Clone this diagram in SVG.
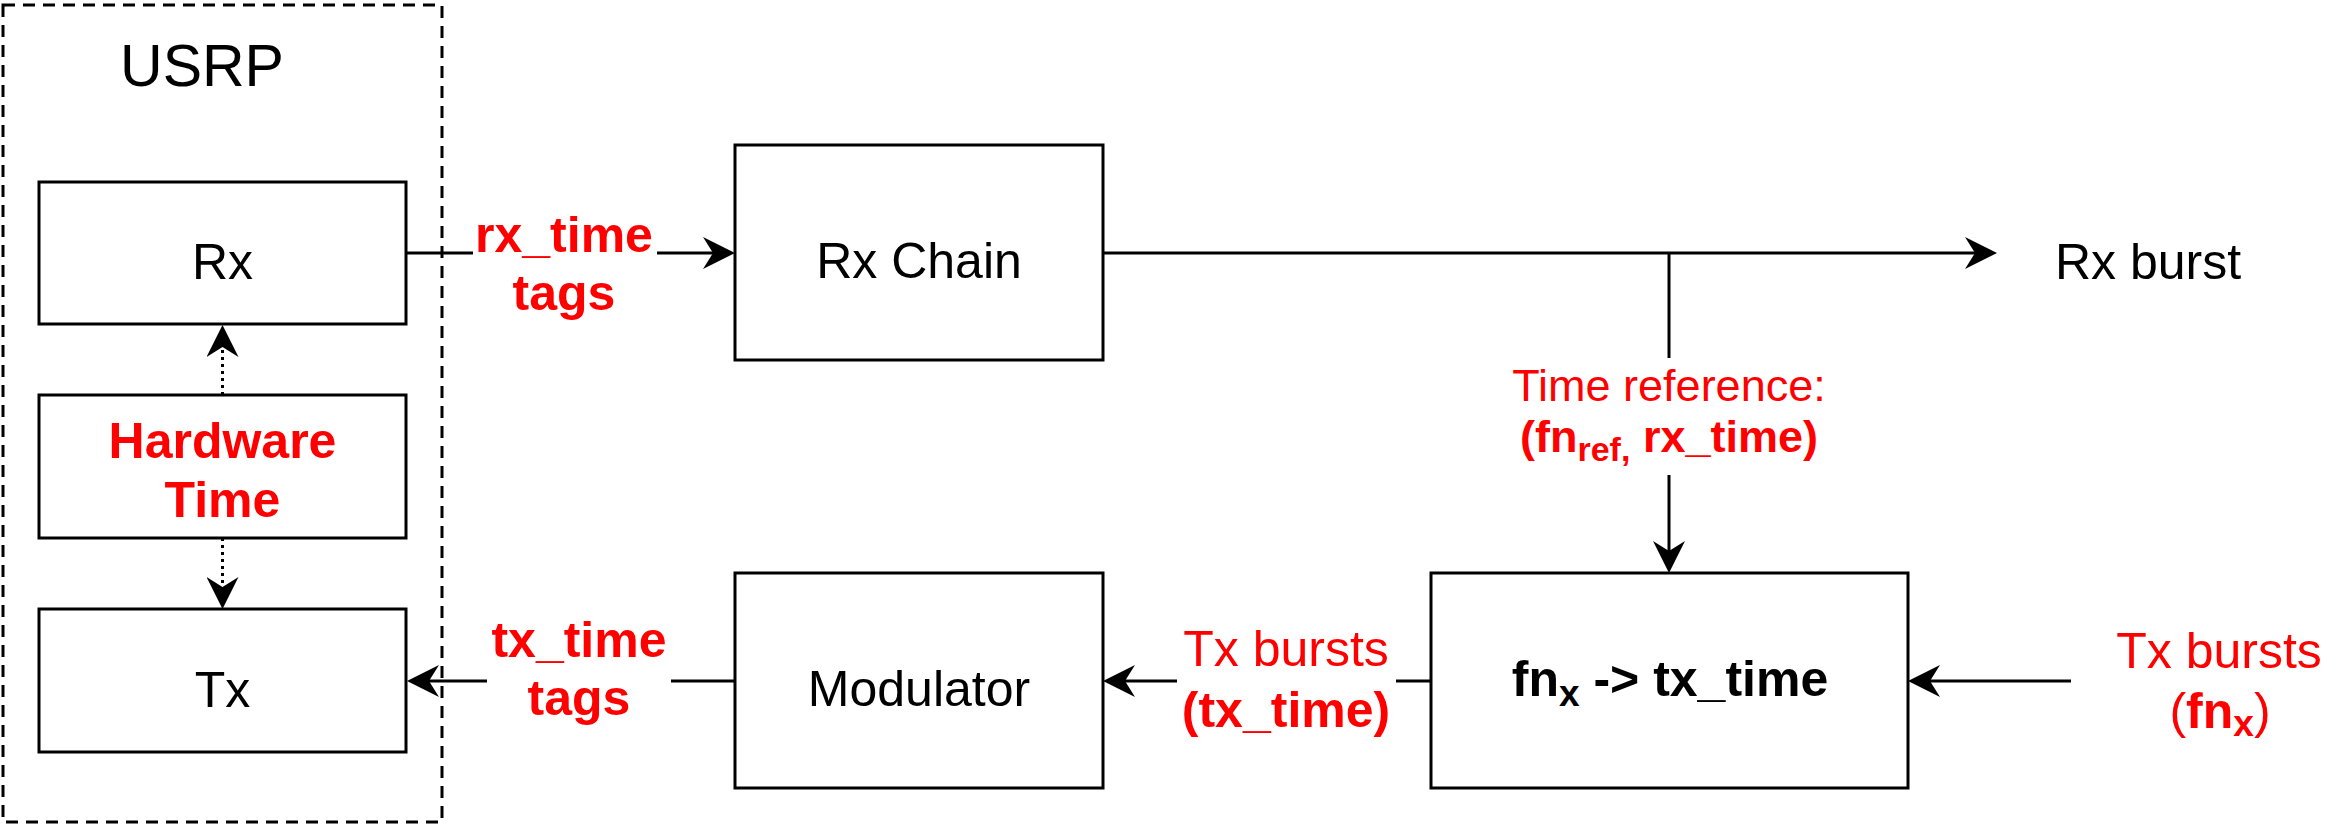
<svg xmlns="http://www.w3.org/2000/svg" width="2329" height="825" viewBox="0 0 2329 825">
<style>
.box{fill:#fff;stroke:#000;stroke-width:3}
.ln{fill:none;stroke:#000;stroke-width:3}
.dot{fill:none;stroke:#000;stroke-width:3;stroke-dasharray:3 4}
.dash{fill:none;stroke:#000;stroke-width:3;stroke-dasharray:12 8}
text{font-family:"Liberation Sans",Arial,Helvetica,sans-serif;font-size:50px;text-anchor:middle}
.red{fill:#ff0000}
.b{font-weight:bold}
</style>
<defs>
<marker id="ah" viewBox="0 0 32 32" refX="10" refY="16" markerWidth="32" markerHeight="32" markerUnits="userSpaceOnUse" orient="auto">
<path d="M32,16 L0,0 L10,16 L0,32 Z" fill="#000"/>
</marker>
</defs>
<rect width="2329" height="825" fill="#fff"/>
<g id="usrp">
<rect class="dash" x="3" y="5" width="439" height="817"/>
<text x="202" y="86" style="font-size:59px">USRP</text>
</g>
<g id="rx">
<rect class="box" x="39" y="182" width="367" height="142"/>
<text x="222.5" y="279">Rx</text>
</g>
<g id="hwtime">
<rect class="box" x="39" y="395" width="367" height="143"/>
<text class="red b" x="222.5" y="458">Hardware</text>
<text class="red b" x="222.5" y="517">Time</text>
</g>
<g id="tx">
<rect class="box" x="39" y="609" width="367" height="143"/>
<text x="222.5" y="707">Tx</text>
</g>
<g id="rxchain">
<rect class="box" x="735" y="145" width="368" height="215"/>
<text x="919" y="278">Rx Chain</text>
</g>
<g id="modulator">
<rect class="box" x="735" y="573" width="368" height="215"/>
<text x="919" y="706">Modulator</text>
</g>
<g id="fnconv">
<rect class="box" x="1431" y="573" width="477" height="215"/>
<text class="b" x="1670" y="696">fn<tspan font-size="37" dy="10">x</tspan><tspan dy="-10"> -&gt; tx_time</tspan></text>
</g>
<g id="rxburst">
<text x="2148" y="279">Rx burst</text>
</g>
<g id="txbursts-in">
<text class="red" x="2219" y="668">Tx bursts</text>
<text class="red" x="2220" y="728">(<tspan class="b">fn<tspan font-size="37" dy="8">x</tspan></tspan><tspan dy="-8">)</tspan></text>
</g>
<g id="connectors">
<path class="ln" d="M406,253 H473"/>
<path class="ln" d="M657,253 H713" marker-end="url(#ah)"/>
<text class="red b" x="564" y="252">rx_time</text>
<text class="red b" x="564" y="310">tags</text>
<path class="ln" d="M1103,253 H1975" marker-end="url(#ah)"/>
<path class="ln" d="M1669,253 V358"/>
<path class="ln" d="M1669,475 V551" marker-end="url(#ah)"/>
<text class="red" x="1669" y="401" style="font-size:45px">Time reference:</text>
<text class="red b" x="1669" y="452" style="font-size:45px">(fn<tspan font-size="34" dy="9">ref,</tspan><tspan dy="-9"> rx_time)</tspan></text>
<path class="ln" d="M2071,681 H1930" marker-end="url(#ah)"/>
<path class="ln" d="M1431,681 H1396"/>
<path class="ln" d="M1177,681 H1125" marker-end="url(#ah)"/>
<text class="red" x="1286" y="666">Tx bursts</text>
<text class="red b" x="1286" y="727">(tx_time)</text>
<path class="ln" d="M735,681 H671"/>
<path class="ln" d="M487,681 H429" marker-end="url(#ah)"/>
<text class="red b" x="579" y="657">tx_time</text>
<text class="red b" x="579" y="715">tags</text>
<path class="dot" d="M222.5,395 V347" marker-end="url(#ah)"/>
<path class="dot" d="M222.5,538 V587" marker-end="url(#ah)"/>
</g>
</svg>
